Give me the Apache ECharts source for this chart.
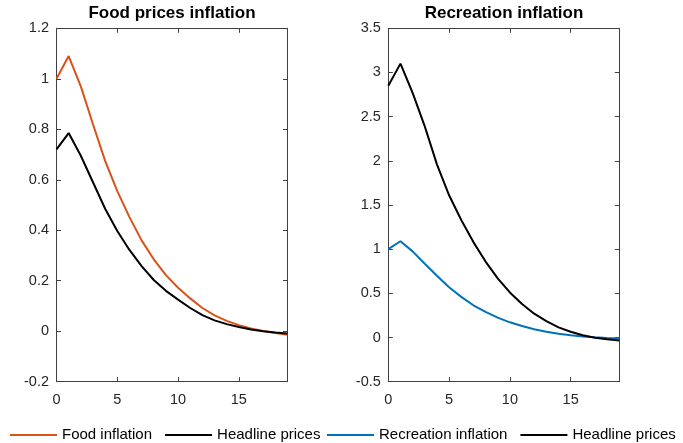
<!DOCTYPE html>
<html>
<head>
<meta charset="utf-8">
<script src="https://cdn.jsdelivr.net/npm/echarts@6/dist/echarts.min.js"></script>
<style>
  html, body { margin: 0; padding: 0; background: #fff; }
  #chart { width: 683px; height: 443px; }
</style>
</head>
<body>
<div id="chart"></div>
<script>
// Horizon (periods after the shock)
const periods = [0, 1, 2, 3, 4, 5, 6, 7, 8, 9, 10, 11, 12, 13, 14, 15, 16, 17, 18, 19];

// Food prices shock
const foodInflation = [1.00, 1.09, 0.97, 0.82, 0.675, 0.555, 0.452, 0.36, 0.285, 0.222,
                       0.172, 0.13, 0.092, 0.063, 0.041, 0.024, 0.011, 0.001, -0.007, -0.014];
const foodHeadline = [0.72, 0.785, 0.695, 0.59, 0.485, 0.397, 0.322, 0.258, 0.203, 0.16,
                      0.125, 0.092, 0.064, 0.043, 0.028, 0.017, 0.007, 0.0, -0.005, -0.009];

// Recreation prices shock
const recreationInflation = [1.00, 1.09, 0.975, 0.835, 0.70, 0.57, 0.46, 0.365, 0.29, 0.225,
                             0.172, 0.13, 0.094, 0.065, 0.042, 0.025, 0.012, 0.003, -0.004, -0.01];
const recreationHeadline = [2.85, 3.10, 2.77, 2.39, 1.96, 1.61, 1.33, 1.08, 0.86, 0.67,
                            0.51, 0.38, 0.27, 0.185, 0.115, 0.065, 0.025, -0.003, -0.02, -0.035];

// Axis settings
const xTicks = { min: 0, max: 19, interval: 5 };
const leftY = { min: -0.2, max: 1.2, interval: 0.2 };
const rightY = { min: -0.5, max: 3.5, interval: 0.5 };

const panelTitles = ['Food prices inflation', 'Recreation inflation'];

const pairs = (xs, ys) => xs.map((x, i) => [x, ys[i]]);

const FONT = '"Liberation Sans", Arial, Helvetica, sans-serif';
const AXIS_COLOR = '#404040';
const LABEL_COLOR = '#262626';
const ORANGE = '#D95319';
const BLUE = '#0072BD';

const grids = [
  { left: 56.5, top: 28.3, width: 231, height: 353.4 },
  { left: 388.3, top: 28.3, width: 231, height: 353.4 }
];

function xAxes(gridIndex) {
  const common = {
    type: 'value', gridIndex,
    min: xTicks.min, max: xTicks.max, interval: xTicks.interval,
    splitLine: { show: false },
    axisLine: { show: true, onZero: false, lineStyle: { color: AXIS_COLOR, width: 1 } },
    axisTick: { show: true, inside: true, length: 4.5, lineStyle: { color: AXIS_COLOR } }
  };
  return [
    Object.assign({}, common, {
      position: 'bottom',
      axisLabel: { show: true, showMaxLabel: false, margin: 11, fontSize: 14.5, fontFamily: FONT, color: LABEL_COLOR }
    }),
    Object.assign({}, common, {
      position: 'top',
      axisLabel: { show: false }
    })
  ];
}

function yAxes(gridIndex, range) {
  const common = {
    type: 'value', gridIndex,
    min: range.min, max: range.max, interval: range.interval,
    splitLine: { show: false },
    axisLine: { show: true, onZero: false, lineStyle: { color: AXIS_COLOR, width: 1 } },
    axisTick: { show: true, inside: true, length: 4.5, lineStyle: { color: AXIS_COLOR } }
  };
  return [
    Object.assign({}, common, {
      position: 'left',
      axisLabel: { show: true, margin: 7.5, fontSize: 14.5, fontFamily: FONT, color: LABEL_COLOR }
    }),
    Object.assign({}, common, {
      position: 'right',
      axisLabel: { show: false }
    })
  ];
}

function lineSeries(name, data, color, xAxisIndex, yAxisIndex) {
  return {
    name, type: 'line', data,
    xAxisIndex, yAxisIndex,
    symbol: 'none', smooth: false,
    lineStyle: { color, width: 2 },
    itemStyle: { color },
    emphasis: { disabled: true },
    animation: false
  };
}

const legendText = { fontSize: 15, fontFamily: FONT, color: '#000' };
const legendCommon = {
  top: 427.5, padding: 0,
  icon: 'rect', itemWidth: 47, itemHeight: 2, itemGap: 13,
  textStyle: legendText, selectedMode: false
};

const option = {
  backgroundColor: '#fff',
  animation: false,
  title: [
    {
      text: panelTitles[0], left: 172, top: 5, textAlign: 'center', padding: 0,
      textStyle: { fontSize: 17, fontWeight: 'bold', fontFamily: FONT, color: '#000' }
    },
    {
      text: panelTitles[1], left: 504, top: 5, textAlign: 'center', padding: 0,
      textStyle: { fontSize: 17, fontWeight: 'bold', fontFamily: FONT, color: '#000' }
    }
  ],
  legend: [
    Object.assign({}, legendCommon, {
      left: 10, width: 330,
      data: ['Food inflation', 'Headline prices']
    }),
    Object.assign({}, legendCommon, {
      left: 327, width: 356,
      data: ['Recreation inflation', 'Headline prices']
    })
  ],
  grid: grids,
  xAxis: [...xAxes(0), ...xAxes(1)],
  yAxis: [...yAxes(0, leftY), ...yAxes(1, rightY)],
  series: [
    lineSeries('Food inflation', pairs(periods, foodInflation), ORANGE, 0, 0),
    lineSeries('Headline prices', pairs(periods, foodHeadline), '#000', 0, 0),
    lineSeries('Recreation inflation', pairs(periods, recreationInflation), BLUE, 2, 2),
    lineSeries('Headline prices', pairs(periods, recreationHeadline), '#000', 2, 2)
  ]
};

const chart = echarts.init(document.getElementById('chart'), null, { renderer: 'canvas' });
chart.setOption(option);
</script>
</body>
</html>
